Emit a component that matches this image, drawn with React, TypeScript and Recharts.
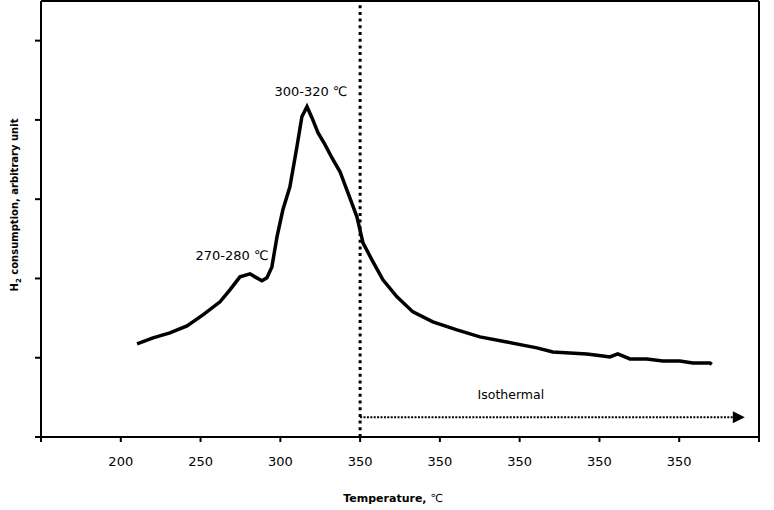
import {
  Label,
  Line,
  LineChart,
  ReferenceDot,
  ReferenceLine,
  XAxis,
  YAxis,
} from 'recharts';

// temperature axis (first part ramp, then isothermal hold at 350 shown on same scale)
const TEMP = [
  210.2, 220.2, 230.8, 241.5, 251.5, 262.2, 268.4, 274.7, 281.0, 284.1, 288.5, 291.6,
  294.7, 297.9, 301.6, 306.0, 310.4, 313.5, 316.7, 319.8, 323.6, 328.0, 332.3, 337.4,
  342.4, 348.0, 351.8, 357.4, 364.3, 373.1, 383.1, 395.6, 410.7, 425.1, 442.0, 460.8,
  470.8, 481.5, 492.1, 502.2, 506.5, 511.5, 519.1, 529.7, 539.7, 550.4, 558.5, 569.2,
  570.4,
];

const H2 = [
  1.174, 1.25, 1.313, 1.402, 1.54, 1.705, 1.856, 2.02, 2.058, 2.02, 1.97, 2.008,
  2.146, 2.525, 2.866, 3.157, 3.662, 4.04, 4.167, 4.028, 3.838, 3.687, 3.523, 3.346,
  3.081, 2.778, 2.449, 2.235, 1.982, 1.768, 1.578, 1.452, 1.351, 1.263, 1.199, 1.124,
  1.073, 1.061, 1.048, 1.023, 1.01, 1.048, 0.985, 0.985, 0.96, 0.96, 0.934, 0.934,
  0.915,
];

const X_TICKS = [150, 200, 250, 300, 350, 400, 450, 500, 550, 600];
const X_TICK_LABELS = ['', '200', '250', '300', '350', '350', '350', '350', '350', ''];
const Y_TICKS = [0, 1, 2, 3, 4, 5];

const ISOTHERMAL_START = 350;
const ISOTHERMAL_END = 583.6;
const ISOTHERMAL_LEVEL = 0.25;

const data = TEMP.map((t, i) => ({ t, h2: H2[i] }));
const arrowData = [
  { t: ISOTHERMAL_START, y: ISOTHERMAL_LEVEL },
  { t: ISOTHERMAL_END, y: ISOTHERMAL_LEVEL },
];

const FONT = '"DejaVu Sans", Verdana, sans-serif';

const ArrowHead = (props: any) => {
  const { cx, cy, index } = props;
  if (index !== 1) return <g key={`a-${index}`} />;
  return (
    <polygon
      key={`a-${index}`}
      points={`${cx},${cy - 6} ${cx},${cy + 6} ${cx + 12},${cy}`}
      fill="#000"
    />
  );
};

const Note = (text: string, size = 13) => (props: any) => {
  const { viewBox } = props;
  const cx = viewBox.x + viewBox.width / 2;
  const cy = viewBox.y + viewBox.height / 2;
  return (
    <text x={cx} y={cy} dy="0.35em" textAnchor="middle" fontSize={size} fontFamily={FONT} fill="#000">
      {text}
    </text>
  );
};

const App = () => {
  return (
    <div style={{ width: 774, height: 510, fontFamily: FONT }}>
      <style>{'body{margin:0}'}</style>
      <LineChart width={774} height={510} data={data} margin={{ top: 1, right: 15, left: 0, bottom: 0 }}>
        <XAxis
          dataKey="t"
          type="number"
          domain={[150, 600]}
          ticks={X_TICKS}
          allowDataOverflow
          tickFormatter={(v: number) => X_TICK_LABELS[X_TICKS.indexOf(v)] ?? ''}
          height={73}
          axisLine={{ stroke: '#000', strokeWidth: 2 }}
          tickLine={{ stroke: '#000', strokeWidth: 2 }}
          tickSize={5}
          tickMargin={15}
          tick={{ fill: '#000', fontSize: 13, fontFamily: FONT }}
        >
          <Label
            content={(p: any) => {
              const vb = p.viewBox;
              return (
                <text x={vb.x + vb.width / 2 - 7} y={vb.y + 65} textAnchor="middle" fontSize={11} fontFamily={FONT} fill="#000">
                  <tspan fontWeight="bold">Temperature, </tspan>
                  <tspan>℃</tspan>
                </text>
              );
            }}
          />
        </XAxis>
        <YAxis
          type="number"
          domain={[0, 5.5]}
          ticks={Y_TICKS}
          width={41}
          tickFormatter={() => ''}
          tickSize={6}
          tickMargin={0}
          axisLine={{ stroke: '#000', strokeWidth: 2 }}
          tickLine={{ stroke: '#000', strokeWidth: 2 }}
        >
          <Label
            content={() => (
              <text
                x={18}
                y={205}
                transform="rotate(-90 18 205)"
                textAnchor="middle"
                fontSize={10}
                fontWeight="bold"
                fontFamily={FONT}
                fill="#000"
              >
                <tspan>H</tspan>
                <tspan fontSize={7} dy={3}>2</tspan>
                <tspan dy={-3}> consumption, arbitrary unit</tspan>
              </text>
            )}
          />
        </YAxis>
        <ReferenceLine y={5.5} stroke="#000" strokeWidth={2} />
        <ReferenceLine x={600} stroke="#000" strokeWidth={2} />
        <ReferenceLine x={350} stroke="#000" strokeWidth={3} strokeDasharray="3 3.7" />
        <Line
          dataKey="h2"
          stroke="#000"
          strokeWidth={3.5}
          dot={false}
          type="linear"
          isAnimationActive={false}
        />
        <Line
          data={arrowData}
          dataKey="y"
          stroke="#000"
          strokeWidth={2}
          strokeDasharray="2 1.4"
          dot={ArrowHead}
          activeDot={false}
          isAnimationActive={false}
        />
        <ReferenceDot x={319.2} y={4.356} r={0} fill="none" stroke="none" label={Note('300-320 ℃')} />
        <ReferenceDot x={269.7} y={2.285} r={0} fill="none" stroke="none" label={Note('270-280 ℃')} />
        <ReferenceDot x={444.5} y={0.53} r={0} fill="none" stroke="none" label={Note('Isothermal', 12.5)} />
      </LineChart>
    </div>
  );
};

export default App;
